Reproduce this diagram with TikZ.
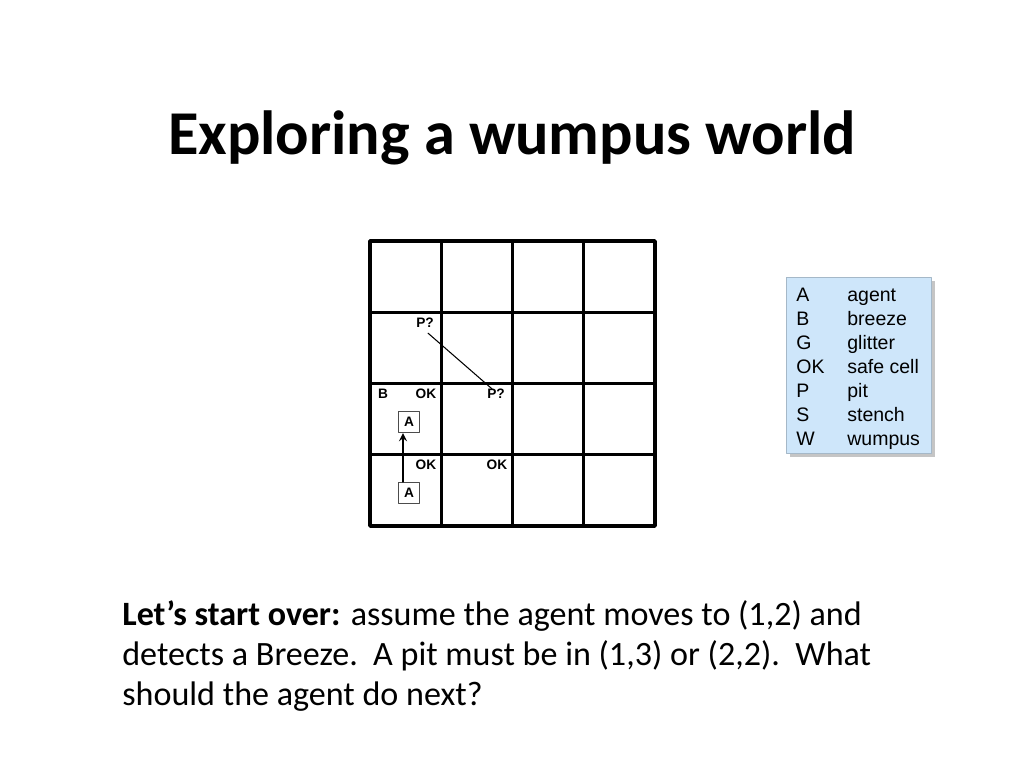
\documentclass[tikz,border=0pt]{standalone}
\usepackage{fontspec}
\setmainfont{Carlito}
\newfontfamily\arialfont{Liberation Sans}
\usetikzlibrary{arrows,shadows}
\definecolor{legendblue}{RGB}{206,230,250}

\tikzset{
    celltext/.style={font=\arialfont\bfseries\fontsize{7.8}{9}\selectfont, inner sep=0pt},
    agentbox/.style={draw=black!70, line width=0.8pt, fill=white, minimum size=0.42cm, inner sep=0pt, font=\arialfont\bfseries\fontsize{7.8}{9}\selectfont},
    legendtext/.style={font=\arialfont\fontsize{11.1}{13}\selectfont, inner sep=0pt, anchor=base west}
}

\begin{document}
\begin{tikzpicture}[line cap=round,line join=round,>=stealth,x=0.02cm,y=-0.02cm]
    \useasboundingbox (0,0) rectangle (1024,768);

    % Title
    \draw (512,154) node[anchor=base, font=\bfseries\fontsize{35.5}{42}\selectfont] (title) {Exploring a wumpus world};

    % Grid
    \draw[line width=2.1pt] (370,241) rectangle (655,526);
    \foreach \i in {1,2,3} {
            \draw[line width=1.5pt] (370+\i*71.25,241) -- (370+\i*71.25,526);
            \draw[line width=1.5pt] (370,241+\i*71.25) -- (655,241+\i*71.25);
        }

    % Cell labels
    \draw(425,323) node[celltext] (P13) {P?};
    \draw(496,394) node[celltext] (P22) {P?};
    \draw(383,394) node[celltext] (B12) {B};
    \draw(426,394) node[celltext] (OK12) {OK};
    \draw(426,465) node[celltext] (OK11) {OK};
    \draw(497,465) node[celltext] (OK21) {OK};
    \draw(409,422) node[agentbox] (A12) {A};
    \draw(409,493) node[agentbox] (A11) {A};

    % Connectors
    \draw[line width=0.6pt] ([xshift=0.06cm,yshift=-0.1cm]P13.south) -- ([xshift=-0.08cm]P22.north);
    \draw[->, line width=1pt] ([xshift=-0.12cm]A11.north) -- ([xshift=-0.12cm]A12.south);

    % Legend
    \draw[fill=legendblue, draw=legendblue!80!black, line width=0.3pt, drop shadow={shadow xshift=0.08cm, shadow yshift=-0.08cm, fill=black!45}] (786,277) rectangle (931,453);
    \foreach \sym/\desc [count=\i] in {A/agent, B/breeze, G/glitter, OK/safe cell, P/pit, S/stench, W/wumpus} {
            \draw(796,277+24*\i) node[legendtext] (sym\i) {\sym};
            \draw(847,277+24*\i) node[legendtext] (desc\i) {\desc};
        }

    % Question text
    \draw(122,705) node[anchor=base west, align=left, inner sep=0pt, font=\fontsize{19.4}{22.7}\selectfont] (question) {\textbf{Let’s start over:} assume the agent moves to (1,2) and\\detects a Breeze.\ \ A pit must be in (1,3) or (2,2).\ \ What\\should the agent do next?};
\end{tikzpicture}
\end{document}
